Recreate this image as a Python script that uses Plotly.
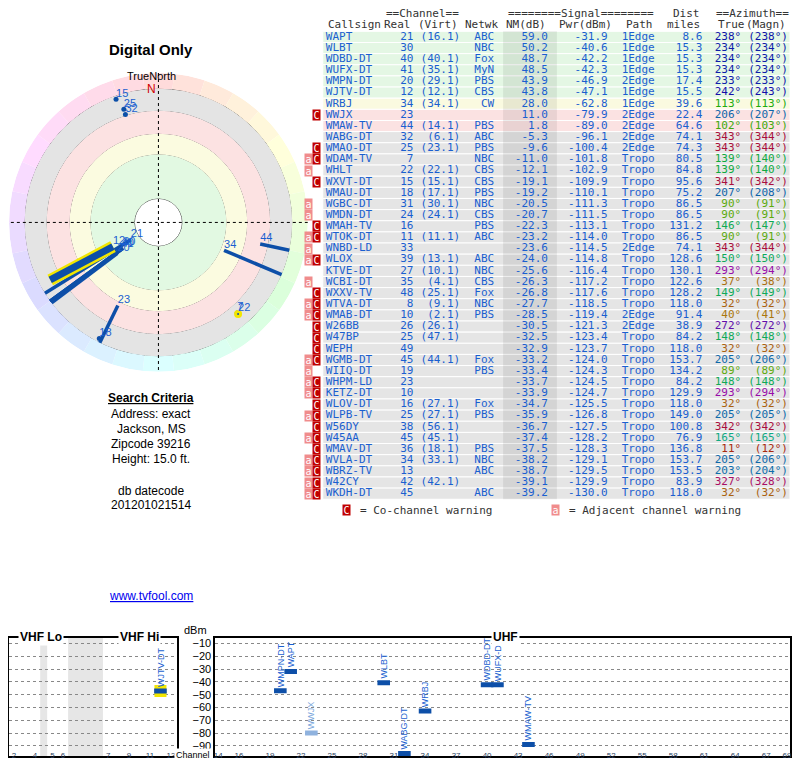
import plotly.graph_objects as go

# ---------------- data ----------------
callsign = ["WAPT","WLBT","WDBD-DT","WUFX-DT","WMPN-DT","WJTV-DT","WRBJ","WWJX","WMAW-TV","WABG-DT",
            "WMAO-DT","WDAM-TV","WHLT","WXVT-DT","WMAU-DT","WGBC-DT","WMDN-DT","WMAH-TV","WTOK-DT","WNBD-LD",
            "WLOX","KTVE-DT","WCBI-DT","WXXV-TV","WTVA-DT","WMAB-DT","W26BB","W47BP","WEPH","WGMB-DT",
            "WIIQ-DT","WHPM-LD","KETZ-DT","WLOV-DT","WLPB-TV","W56DY","W45AA","WMAV-DT","WVLA-DT","WBRZ-TV",
            "W42CY","WKDH-DT"]
real_ch = [21,30,40,41,20,12,34,23,44,32,25,7,22,15,18,31,24,16,11,33,39,27,35,48,8,10,26,25,49,45,
           19,23,10,16,25,38,45,36,34,13,42,45]
virt_ch = ["16.1","","40.1","35.1","29.1","12.1","34.1","","14.1","6.1","23.1","","22.1","15.1","17.1","30.1",
           "24.1","","11.1","","13.1","10.1","4.1","25.1","9.1","2.1","26.1","47.1","","44.1",
           "","","","27.1","27.1","56.1","45.1","18.1","33.1","","42.1",""]
network = ["ABC","NBC","Fox","MyN","PBS","CBS","CW","","PBS","ABC","PBS","NBC","CBS","CBS","PBS","NBC",
           "CBS","PBS","ABC","","ABC","NBC","CBS","Fox","NBC","PBS","","","","Fox",
           "PBS","","","Fox","PBS","","","PBS","NBC","ABC","","ABC"]
nm_db = [59.0,50.2,48.7,48.5,43.9,43.8,28.0,11.0,1.8,-5.3,-9.6,-11.0,-12.1,-19.1,-19.2,-20.5,-20.7,-22.3,
         -23.2,-23.6,-24.0,-25.6,-26.3,-26.8,-27.7,-28.5,-30.5,-32.5,-32.9,-33.2,-33.4,-33.7,-33.9,-34.7,
         -35.9,-36.7,-37.4,-37.5,-38.2,-38.7,-39.1,-39.2]
pwr_dbm = [-31.9,-40.6,-42.2,-42.3,-46.9,-47.1,-62.8,-79.9,-89.0,-96.1,-100.4,-101.8,-102.9,-109.9,-110.1,
           -111.3,-111.5,-113.1,-114.0,-114.5,-114.8,-116.4,-117.2,-117.6,-118.5,-119.4,-121.3,-123.4,
           -123.7,-124.0,-124.3,-124.5,-124.7,-125.5,-126.8,-127.5,-128.2,-128.3,-129.1,-129.5,-129.9,-130.0]
path = ["1Edge","1Edge","1Edge","1Edge","2Edge","1Edge","1Edge","2Edge","2Edge","2Edge","2Edge","Tropo",
        "Tropo","Tropo","Tropo","Tropo","Tropo","Tropo","Tropo","2Edge","Tropo","Tropo","Tropo","Tropo",
        "Tropo","2Edge","2Edge","Tropo","Tropo","Tropo","Tropo","Tropo","Tropo","Tropo","Tropo","Tropo",
        "Tropo","Tropo","Tropo","Tropo","Tropo","Tropo"]
dist_mi = [8.6,15.3,15.3,15.3,17.4,15.5,39.6,22.4,64.6,74.1,74.3,80.5,84.8,95.6,75.2,86.5,86.5,131.2,86.5,
           74.1,128.6,130.1,122.6,128.2,118.0,91.4,38.9,84.2,118.0,153.7,134.2,84.2,129.9,118.0,149.0,
           100.8,76.9,136.8,153.7,153.5,83.9,118.0]
az_true = [238,234,234,234,233,242,113,206,102,343,343,139,139,341,207,90,90,146,90,343,150,293,37,149,32,
           40,272,148,32,205,89,148,293,32,205,342,165,11,205,203,327,32]
az_magn = [238,234,234,234,233,243,113,207,103,344,344,140,140,342,208,91,91,147,91,344,150,294,38,149,32,
           41,272,148,32,206,89,148,294,32,205,342,165,12,206,204,328,32]
warn = ["","","","","","","","C","","","C","aC","a","C","","a","a","C","aC","a","aC","","a","C","aC","aC",
        "C","C","C","aC","a","aC","aC","C","aC","C","aC","C","aC","aC","aC","aC"]
highlight = ["WJTV-DT", "WHLT"]

vhf_ch = [2,4,5,6,7,9,11,13]
uhf_ticks = [14,16,19,22,25,28,31,34,37,40,43,46,49,52,55,58,61,64,67,69]
dbm_ticks = [-10,-20,-30,-40,-50,-60,-70,-80,-90]

BLUE = "#1a5fd0"
DARK = "#0d4fa8"
MONO = "DejaVu Sans Mono"
SANS = "Liberation Sans"
FS = 11

# page has an 8px body margin: figure is 784x752 placed at (8, 8)
W, H, OFF = 784, 752, 8
def PX(p): return (p - OFF) / W
def PY(p): return 1 - (p - OFF) / H

def ch_freq(c):
    if c <= 4: return 57 + 6 * (c - 2)
    if c <= 6: return 79 + 6 * (c - 5)
    return 177 + 6 * (c - 7)

def vhf_x(c):
    f = ch_freq(c)
    return f if f < 110 else f - 66

def az_color(a):
    return f"hsl({a % 360},85%,36%)"

def row_bg(nm):
    if nm >= 40: return "#e4f7e4"
    if nm >= 20: return "#fafae0"
    if nm >= 0: return "#fbe2e2"
    return "#e5e5e5"

fig = go.Figure()

# ---------------- polar ----------------
R_OFF = 85.0
R_EDGE = 107.0
R_MAX = 119.5
bands = [(19.2, 54.3, "#e2f9e2"), (54.3, 71.0, "#fbfbe0"), (71.0, 89.4, "#fce2e2"), (89.4, R_EDGE, "#e4e4e4")]
for b0, b1, col in bands:
    fig.add_trace(go.Barpolar(r=[b1 - b0], base=[b0], theta=[0], width=[360], marker_color=col,
                              marker_line_width=0, hoverinfo="skip", showlegend=False))
hues = list(range(0, 360, 12))
fig.add_trace(go.Barpolar(r=[R_MAX - R_EDGE] * len(hues), base=[R_EDGE] * len(hues), theta=hues,
                          width=[12] * len(hues),
                          marker_color=[f"hsl({h},100%,93%)" for h in hues], marker_line_width=0,
                          hoverinfo="skip", showlegend=False))
for th in (0, 90):
    fig.add_trace(go.Scatterpolar(r=[R_MAX, 0, R_MAX], theta=[th, th, th + 180], mode="lines",
                                  line=dict(color="black", width=1, dash="dot"), showlegend=False,
                                  hoverinfo="skip"))

for i in range(len(callsign)):
    if nm_db[i] < -20:
        continue
    r0 = R_OFF - nm_db[i]
    hl = callsign[i] in highlight
    if nm_db[i] > 0:
        r1 = R_EDGE - 9 if hl else R_EDGE
        if hl:
            fig.add_trace(go.Scatterpolar(r=[r0, r1], theta=[az_true[i]] * 2, mode="lines",
                                          line=dict(color="#f2e600", width=12), showlegend=False, hoverinfo="skip"))
        fig.add_trace(go.Scatterpolar(r=[r0, r1], theta=[az_true[i]] * 2, mode="lines",
                                      line=dict(color=DARK, width=7 if hl else 3.5), showlegend=False,
                                      hoverinfo="skip"))
    else:
        fig.add_trace(go.Scatterpolar(r=[r0], theta=[az_true[i]], mode="markers",
                                      marker=dict(color=DARK, size=5,
                                                  line=dict(color="#f2e600" if hl else DARK, width=3 if hl else 0)),
                                      showlegend=False, hoverinfo="skip"))
    fig.add_trace(go.Scatterpolar(r=[r0], theta=[az_true[i]], mode="text", text=[str(real_ch[i])],
                                  textposition="top right", textfont=dict(color=BLUE, size=11, family=SANS),
                                  showlegend=False, hoverinfo="skip"))

fig.update_layout(polar=dict(
    domain=dict(x=[PX(8), PX(308)], y=[PY(373), PY(73)]),
    bgcolor="white", barmode="overlay",
    radialaxis=dict(range=[0, R_MAX], tickvals=[19.2, 37.6, 54.3, 71.0, 89.4, 107.0], showticklabels=False,
                    gridcolor="#333", gridwidth=0.8, showline=False, ticks="", layer="above traces"),
    angularaxis=dict(rotation=90, direction="clockwise", showticklabels=False, showgrid=False,
                     showline=False, ticks=""),
))

# ---------------- table ----------------
n = len(callsign)
rows = list(range(n))
ROW0, ROWH = 37, 11.17
shapes = []
for i in rows:
    shapes.append(dict(type="rect", xref="x", yref="y", x0=323, x1=792, y0=i - 0.5, y1=i + 0.5,
                       fillcolor=row_bg(nm_db[i]), line=dict(color="white", width=1), layer="below"))
shapes.append(dict(type="rect", xref="x", yref="y", x0=504, x1=558, y0=-0.5, y1=n - 0.5,
                   fillcolor="rgba(0,0,0,0.07)", line_width=0, layer="below"))

def col_text(x, texts, pos, colors=BLUE):
    fig.add_trace(go.Scatter(x=[x] * len(texts), y=rows, mode="text", text=texts, textposition=pos,
                             textfont=dict(family=MONO, size=FS, color=colors), xaxis="x", yaxis="y",
                             showlegend=False, hoverinfo="skip", cliponaxis=False))

col_text(326, callsign, "middle right")
col_text(414, [str(v) for v in real_ch], "middle left")
col_text(461, [f"({v})" if v else "" for v in virt_ch], "middle left")
col_text(495, network, "middle left")
col_text(549, [f"{v:.1f}" for v in nm_db], "middle left")
col_text(609, [f"{v:.1f}" for v in pwr_dbm], "middle left")
col_text(623, path, "middle right")
col_text(704, [f"{v:.1f}" for v in dist_mi], "middle left")
col_text(743, [f"{v}°" for v in az_true], "middle left", [az_color(a) for a in az_true])
col_text(790, [f"({v}°)" for v in az_magn], "middle left", [az_color(a) for a in az_true])

ann = []
def tann(x, y, t, anchor="center", xref="x", yref="y", **kw):
    d = dict(x=x, y=y, xref=xref, yref=yref, text=t, showarrow=False, xanchor=anchor, yanchor="middle",
             font=dict(family=kw.pop("family", MONO), size=kw.pop("size", FS), color=kw.pop("color", "#333")))
    d.update(kw)
    ann.append(d)

for x, t, a in [(423, "==Channel==", "center"), (582, "========Signal========", "center"),
                (704, "Dist", "right"), (754, "==Azimuth==", "center")]:
    tann(x, (14 - ROW0) / ROWH, t, a)
for x, t, a in [(326, "Callsign", "left"), (414, "Real", "right"), (461, "(Virt)", "right"),
                (501, "Netwk", "right"), (549, "NM(dB)", "right"), (615, "Pwr(dBm)", "right"),
                (656, "Path", "right"), (704, "miles", "right"), (749, "True", "right"), (790, "(Magn)", "right")]:
    tann(x, (25 - ROW0) / ROWH, t, a)

def flag(x, y, t):
    tann(x, y, t, color="white", bgcolor="#f08c8c" if t == "a" else "#c00000",
         width=7, height=10, borderpad=0, size=10)

for i in rows:
    if "a" in warn[i]:
        flag(309, i, "a")
    if "C" in warn[i]:
        flag(317, i, "C")
flag(347, 42.5, "C")
tann(358, 42.5, "= Co-channel warning", "left")
flag(557, 42.5, "a")
tann(568, 42.5, "= Adjacent channel warning", "left")

# ---------------- left text ----------------
def pann(px, py, t, **kw):
    tann(PX(px), PY(py), t, xref="paper", yref="paper", family=SANS, **kw)

pann(151, 50, "<b>Digital Only</b>", size=15, color="black")
pann(151, 76, "TrueNorth", size=11, color="black")
pann(151, 89, "N", size=12, color="#d00000")
pann(151, 399, "<b><u>Search Criteria</u></b>", size=12, color="black")
for k, t in enumerate(["Address: exact", "Jackson, MS", "Zipcode 39216", "Height: 15.0 ft."]):
    pann(151, 415 + 15 * k, t, size=12, color="black")
pann(151, 492, "db datecode", size=12, color="black")
pann(151, 506, "201201021514", size=12, color="black")
pann(151, 598, "<u>www.tvfool.com</u>", size=12, color="#0000ee")

# ---------------- spectrum ----------------
spec = [i for i in rows if pwr_dbm[i] >= -98]
for i in spec:
    vhf = real_ch[i] <= 13
    xa, ya = ("x2", "y2") if vhf else ("x3", "y3")
    xv = vhf_x(real_ch[i]) if vhf else real_ch[i]
    light = "C" in warn[i]
    col = "#8fb2de" if light else DARK
    if callsign[i] in highlight:
        fig.add_trace(go.Scatter(x=[xv], y=[pwr_dbm[i]], mode="markers", xaxis=xa, yaxis=ya,
                                 marker=dict(symbol="square", size=12, color="#f2e600", line_width=0),
                                 showlegend=False, hoverinfo="skip"))
    fig.add_trace(go.Scatter(x=[xv], y=[pwr_dbm[i]], mode="markers", xaxis=xa, yaxis=ya,
                             marker=dict(symbol="line-ew", size=9, line=dict(color=col, width=5)),
                             showlegend=False, hoverinfo="skip"))
    ann.append(dict(x=xv, y=pwr_dbm[i] + 1.5, xref=xa, yref=ya, text=callsign[i], showarrow=False,
                    textangle=-90, xanchor="center", yanchor="bottom",
                    font=dict(family=SANS, size=9, color="#7aa6dc" if light else BLUE)))

ydom = [PY(758), PY(639.5)]
common_y = dict(range=[-98, -5.5], domain=ydom, tickvals=dbm_ticks, showgrid=True, gridcolor="#888",
                griddash="dot", zeroline=False, showline=True, linecolor="black", linewidth=1.5, mirror=True)
fig.update_layout(
    xaxis=dict(domain=[PX(305), 1], range=[305, 792], visible=False),
    yaxis=dict(domain=[0, 1], range=[(760 - ROW0) / ROWH, (8 - ROW0) / ROWH], visible=False),
    xaxis2=dict(domain=[PX(8), PX(177)], range=[54.1, 150.7], anchor="y2",
                tickvals=[vhf_x(c) for c in vhf_ch], ticktext=[str(c) for c in vhf_ch],
                tickfont=dict(size=8, family=SANS), showgrid=False, zeroline=False, showline=True,
                linecolor="black", linewidth=1.5, mirror=True, ticks="", ticklabelstandoff=-9),
    yaxis2=dict(anchor="x2", showticklabels=False, ticks="", **common_y),
    xaxis3=dict(domain=[PX(215), PX(792)], range=[13.7, 69.3], anchor="y3",
                tickvals=uhf_ticks, tickfont=dict(size=8, family=SANS), showgrid=False, zeroline=False,
                showline=True, linecolor="black", linewidth=1.5, mirror=True, ticks="", ticklabelstandoff=-9),
    yaxis3=dict(anchor="x3", tickfont=dict(size=11, family=SANS, color="black"), ticks="", **common_y),
)
for c0, c1 in [(72, 76), (88, 108)]:
    shapes.append(dict(type="rect", xref="x2", yref="y2", x0=c0, x1=c1, y0=-98, y1=-5.5,
                       fillcolor="#e6e6e6", line_width=0, layer="below"))

pann(40, 639, "<b>VHF Lo</b>", size=12, color="black", bgcolor="white")
pann(139, 639, "<b>VHF Hi</b>", size=12, color="black", bgcolor="white")
pann(506, 639, "<b>UHF</b>", size=12, color="black", bgcolor="white")
pann(195, 632, "dBm", size=11, color="black")
pann(193, 757, "Channel", size=9, color="black", bgcolor="white")

fig.update_layout(width=W, height=H, margin=dict(l=0, r=0, t=0, b=0), paper_bgcolor="white",
                  plot_bgcolor="rgba(0,0,0,0)", shapes=shapes, annotations=ann, showlegend=False)
fig.write_html("out.html")
